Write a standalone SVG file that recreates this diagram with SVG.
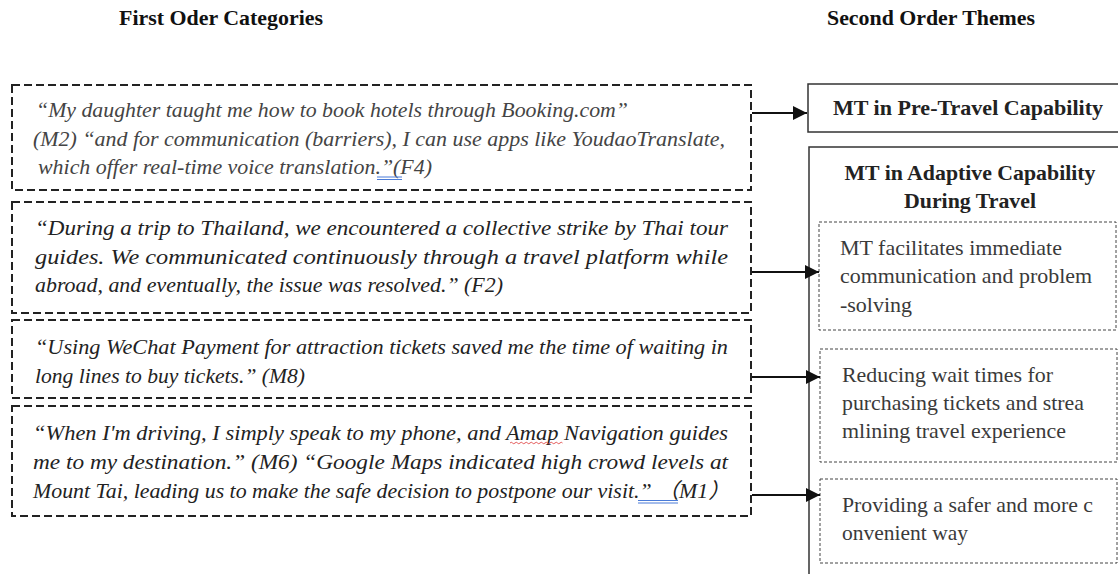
<svg xmlns="http://www.w3.org/2000/svg" width="1118" height="574" viewBox="0 0 1118 574">
<style>
.hdr{font-family:"Liberation Serif",serif;font-weight:bold;font-size:21px;fill:#111;text-anchor:middle}
.q{font-family:"Liberation Serif","Noto Sans CJK SC",serif;font-style:italic;font-size:21px;fill:#444}
.q2{font-family:"Liberation Serif","Noto Sans CJK SC",serif;font-style:italic;font-size:21px;fill:#222}
.th{font-family:"Liberation Serif",serif;font-weight:bold;font-size:21.5px;fill:#222;text-anchor:middle}
.t{font-family:"Liberation Serif",serif;font-size:21.5px;fill:#3a3a3a}
.db{fill:none;stroke:#222;stroke-width:2;stroke-dasharray:8 4}
.sb{fill:#fff;stroke:#333;stroke-width:1.5}
.ib{fill:none;stroke:#444;stroke-width:1;stroke-dasharray:3 2}
.c{stroke:#111;stroke-width:2;fill:none}
</style>
<defs>
<marker id="ah" viewBox="0 0 12 12" refX="12" refY="6" markerWidth="14" markerHeight="14" orient="auto" markerUnits="userSpaceOnUse">
<path d="M0,0 L12,6 L0,12 z" fill="#111"/>
</marker>
</defs>
<rect width="1118" height="574" fill="#fff"/>
<text class="hdr" x="221" y="25" textLength="204" lengthAdjust="spacingAndGlyphs">First Oder Categories</text>
<text class="hdr" x="931" y="25" textLength="208" lengthAdjust="spacingAndGlyphs">Second Order Themes</text>

<g id="q1">
<rect class="db" x="12" y="85" width="739" height="105"/>
<text class="q" x="36" y="117" textLength="592" lengthAdjust="spacingAndGlyphs">“My daughter taught me how to book hotels through Booking.com”</text>
<text class="q" x="33" y="146" textLength="692" lengthAdjust="spacingAndGlyphs">(M2) “and for communication (barriers), I can use apps like YoudaoTranslate,</text>
<text class="q" x="38" y="174" textLength="394" lengthAdjust="spacingAndGlyphs">which offer real-time voice translation.”(F4)</text>
<path d="M377,177 H402 M377,179.5 H402" stroke="#4a7bd8" stroke-width="1"/>
</g>

<g id="q2">
<rect class="db" x="12" y="202" width="739" height="111"/>
<text class="q2" x="35" y="235" textLength="693" lengthAdjust="spacingAndGlyphs">“During a trip to Thailand, we encountered a collective strike by Thai tour</text>
<text class="q2" x="35" y="264" textLength="693" lengthAdjust="spacingAndGlyphs">guides. We communicated continuously through a travel platform while</text>
<text class="q2" x="35" y="292" textLength="468" lengthAdjust="spacingAndGlyphs">abroad, and eventually, the issue was resolved.” (F2)</text>
</g>

<g id="q3">
<rect class="db" x="12" y="320" width="739" height="78"/>
<text class="q2" x="35" y="354" textLength="693" lengthAdjust="spacingAndGlyphs">“Using WeChat Payment for attraction tickets saved me the time of waiting in</text>
<text class="q2" x="35" y="383" textLength="270" lengthAdjust="spacingAndGlyphs">long lines to buy tickets.” (M8)</text>
</g>

<g id="q4">
<rect class="db" x="12" y="406" width="739" height="110"/>
<text class="q2" x="33" y="440" textLength="695" lengthAdjust="spacingAndGlyphs">“When I'm driving, I simply speak to my phone, and Amap Navigation guides</text>
<text class="q2" x="33" y="469" textLength="695" lengthAdjust="spacingAndGlyphs">me to my destination.” (M6) “Google Maps indicated high crowd levels at</text>
<text class="q2" x="33" y="498" textLength="697" lengthAdjust="spacingAndGlyphs">Mount Tai, leading us to make the safe decision to postpone our visit.” （M1）</text>
<path d="M510,443 q1.25,-1.5 2.5,0 t2.5,0 t2.5,0 t2.5,0 t2.5,0 t2.5,0 t2.5,0 t2.5,0 t2.5,0 t2.5,0 t2.5,0 t2.5,0 t2.5,0 t2.5,0 t2.5,0 t2.5,0 t2.5,0 t2.5,0 t2.5,0 t2.5,0 t2.5,0" stroke="#d33" stroke-width="0.8" fill="none"/>
<path d="M638,500.5 H678 M638,503 H678" stroke="#4a7bd8" stroke-width="1"/>
</g>

<g id="pre">
<rect class="sb" x="808" y="84" width="320" height="48"/>
<text class="th" x="968" y="115" textLength="270" lengthAdjust="spacingAndGlyphs">MT in Pre-Travel Capability</text>
</g>

<g id="adaptive">
<rect class="sb" x="809" y="147" width="320" height="440"/>
<text class="th" x="970" y="180" textLength="251" lengthAdjust="spacingAndGlyphs">MT in Adaptive Capability</text>
<text class="th" x="970" y="208" textLength="132" lengthAdjust="spacingAndGlyphs">During Travel</text>
</g>

<g id="t1">
<rect class="ib" x="819" y="222" width="297" height="108"/>
<text class="t" x="840" y="255" textLength="222" lengthAdjust="spacingAndGlyphs">MT facilitates immediate</text>
<text class="t" x="840" y="283" textLength="252" lengthAdjust="spacingAndGlyphs">communication and problem</text>
<text class="t" x="840" y="312" textLength="72" lengthAdjust="spacingAndGlyphs">-solving</text>
</g>

<g id="t2">
<rect class="ib" x="820" y="349" width="297" height="113"/>
<text class="t" x="842" y="382" textLength="211" lengthAdjust="spacingAndGlyphs">Reducing wait times for</text>
<text class="t" x="842" y="410" textLength="242" lengthAdjust="spacingAndGlyphs">purchasing tickets and strea</text>
<text class="t" x="842" y="438" textLength="224" lengthAdjust="spacingAndGlyphs">mlining travel experience</text>
</g>

<g id="t3">
<rect class="ib" x="820" y="479" width="297" height="84"/>
<text class="t" x="842" y="512" textLength="251" lengthAdjust="spacingAndGlyphs">Providing a safer and more c</text>
<text class="t" x="842" y="540" textLength="126" lengthAdjust="spacingAndGlyphs">onvenient way</text>
</g>

<g id="connectors">
<line class="c" x1="752" y1="113" x2="807" y2="113" marker-end="url(#ah)"/>
<line class="c" x1="752" y1="272" x2="819" y2="272" marker-end="url(#ah)"/>
<line class="c" x1="752" y1="377" x2="820" y2="377" marker-end="url(#ah)"/>
<line class="c" x1="752" y1="495" x2="820" y2="495" marker-end="url(#ah)"/>
</g>
</svg>
